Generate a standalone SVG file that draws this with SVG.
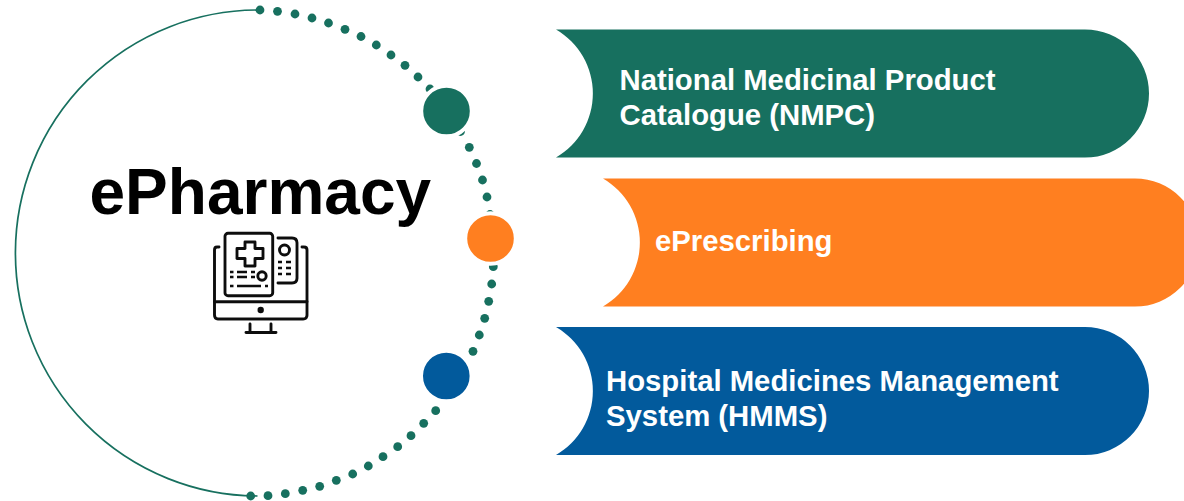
<svg xmlns="http://www.w3.org/2000/svg" width="1184" height="501" viewBox="0 0 1184 501">
<defs>
<style>
.t{font-family:"Liberation Sans",Arial,sans-serif;font-weight:700;fill:#fff;font-size:29.3px}
.d{fill:#17705f}
.ic{fill:none;stroke:#111;stroke-width:2.9;stroke-linejoin:round;stroke-linecap:round}
.ig{fill:none;stroke:#111;stroke-width:2.6;stroke-linecap:butt}
.icf{fill:#111}
.ball{stroke:#fff;stroke-width:4}
</style>
<filter id="soft" x="-5%" y="-5%" width="110%" height="110%"><feGaussianBlur stdDeviation="0.6"/></filter>
</defs>
<rect width="1184" height="501" fill="#fff"/>
<g id="connectors">
<path d="M260 10A243 243 0 1 0 258 496" fill="none" stroke="#17705f" stroke-width="1.7" transform="translate(-0.500 0)"/>
<g id="dots" class="d">
<circle cx="260" cy="10" r="4.400"/><circle cx="277.500" cy="11.300" r="4.400"/><circle cx="295" cy="14" r="4.400"/><circle cx="312" cy="18" r="4.400"/><circle cx="328.500" cy="23" r="4.400"/><circle cx="345" cy="29.300" r="4.400"/><circle cx="361" cy="36.500" r="4.400"/><circle cx="376.300" cy="45" r="4.400"/><circle cx="391" cy="55" r="4.400"/><circle cx="405" cy="65.300" r="4.400"/><circle cx="418" cy="77" r="4.400"/><circle cx="430" cy="89" r="4.400"/>
<circle cx="460.500" cy="131.500" r="4.400"/><circle cx="469.300" cy="147.300" r="4.400"/><circle cx="476.500" cy="163.500" r="4.400"/><circle cx="482.500" cy="180" r="4.400"/><circle cx="487" cy="197" r="4.400"/><circle cx="490" cy="214.500" r="4.400"/>
<circle cx="493.300" cy="266.700" r="4.400"/><circle cx="491.700" cy="284" r="4.400"/><circle cx="488.700" cy="301.300" r="4.400"/><circle cx="484.700" cy="318.300" r="4.400"/><circle cx="479.300" cy="335" r="4.400"/><circle cx="473" cy="351.300" r="4.400"/>
<circle cx="435.700" cy="410.700" r="4.400"/><circle cx="423.700" cy="423.300" r="4.400"/><circle cx="411" cy="435.700" r="4.400"/><circle cx="397.700" cy="446.700" r="4.400"/><circle cx="383" cy="456.700" r="4.400"/><circle cx="368.300" cy="466" r="4.400"/><circle cx="352.700" cy="474" r="4.400"/><circle cx="336.300" cy="480.300" r="4.400"/><circle cx="319.700" cy="486.300" r="4.400"/><circle cx="302.700" cy="490.300" r="4.400"/><circle cx="285.300" cy="493.700" r="4.400"/><circle cx="268" cy="495.700" r="4.400"/><circle cx="250.700" cy="496" r="4.400"/>
</g>
</g>
<g id="node-green-dot"><circle class="ball" cx="446.500" cy="111" r="25.300" fill="#17705f"/></g>
<g id="node-orange-dot"><circle class="ball" cx="490.500" cy="238.500" r="25.300" fill="#ff7f20"/></g>
<g id="node-blue-dot"><circle class="ball" cx="446.300" cy="376" r="25.300" fill="#025a9c"/></g>
<g id="node-ePharmacy">
<text x="89.500" y="214" font-family="'Liberation Sans',Arial,sans-serif" font-weight="700" font-size="64" fill="#000">ePharmacy</text>
<g id="icon" filter="url(#soft)">
<path class="ic" d="M219 247H217Q214.500 247 214.500 250V315Q214.500 319 218 319H303Q307 319 307 315V250Q307 247 304 247H302"/>
<path class="ic" d="M214.500 301.700H307"/>
<rect class="ic" x="225" y="233.300" width="47.700" height="62.400" rx="3"/>
<path class="ic" d="M245 242H255V248.500H263V258.500H255V266H245V258.500H237V248.500H245Z"/>
<path class="ic" d="M278 238H292Q297 238 297 243V278Q297 283 292 283H278"/>
<circle class="ic" cx="284.500" cy="250" r="5"/>
<circle class="ic" cx="262" cy="276" r="4.200"/>
<path class="ig" d="M237 272H247M237 277H247M251 272H255M251 277H255M237 286H261"/>
<path class="ig" d="M230 272H233.500M230 277H233.500M230 286H233.500M265 286H268"/>
<path class="ig" d="M278 262H282M286 262H291M278 268H282M286 268H291M278 274H282M286 274H291"/>
<circle class="icf" cx="260.700" cy="310" r="3.200"/>
<path class="ic" d="M250 324V332M271 324V332M246 332.500H276"/>
</g>
</g>
<g id="node-nmpc">
<path fill="#17705f" d="M556 29.500H1085A64 64 0 0 1 1085 157.500H556A74 74 0 0 0 556 29.500Z"/>
<text class="t" x="619.500" y="90">National Medicinal Product</text>
<text class="t" x="619.500" y="125">Catalogue (NMPC)</text>
</g>
<g id="node-eprescribing">
<path fill="#ff7f20" d="M603 178.500H1135A64 64 0 0 1 1135 306.500H603A74 74 0 0 0 603 178.500Z"/>
<text class="t" x="655" y="250.500">ePrescribing</text>
</g>
<g id="node-hmms">
<path fill="#025a9c" d="M556 327H1085A64 64 0 0 1 1085 455H556A74 74 0 0 0 556 327Z"/>
<text class="t" x="606" y="391">Hospital Medicines Management</text>
<text class="t" x="606" y="426">System (HMMS)</text>
</g>
</svg>
